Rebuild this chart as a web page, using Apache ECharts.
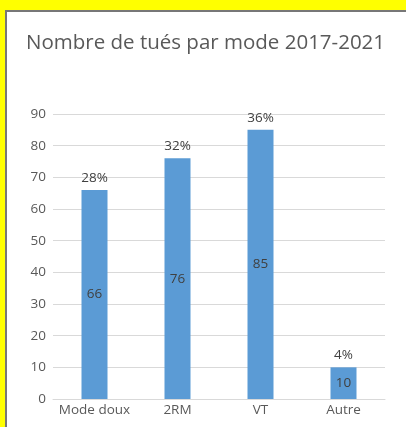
<!DOCTYPE html>
<html>
<head>
<meta charset="utf-8">
<script src="https://cdn.jsdelivr.net/npm/echarts@6/dist/echarts.min.js"></script>
<style>
  html, body { margin: 0; padding: 0; background: #ffff00; }
  #frame { position: absolute; left: 5px; top: 10px; right: 0; bottom: 0;
           background: #fff; border-left: 2px solid #777; border-top: 2px solid #777; }
  #chart { position: absolute; left: 0; top: 0; width: 406px; height: 427px; }
</style>
</head>
<body>
<div id="frame"></div>
<div id="chart"></div>
<script>
  // données
  var modes = ['Mode doux', '2RM', 'VT', 'Autre'];
  var tues = [66, 76, 85, 10];
  var parts = ['28%', '32%', '36%', '4%'];
  var yTicks = { min: 0, max: 90, interval: 10 };

  var txt = '#595959';
  var font = 'Open Sans';
  var myChart = echarts.init(document.getElementById('chart'));
  var option = {
    backgroundColor: 'transparent',
    animation: false,
    title: {
      text: 'Nombre de tués par mode 2017-2021',
      left: 21,
      top: 28,
      textStyle: { color: txt, fontFamily: font, fontSize: 20.5, fontWeight: 'normal' }
    },
    grid: { left: 53, right: 21, top: 114, bottom: 28, containLabel: false },
    xAxis: {
      type: 'category',
      data: modes,
      axisLine: { lineStyle: { color: '#d9d9d9', width: 1 } },
      axisTick: { show: false },
      axisLabel: { color: txt, fontFamily: font, fontSize: 13.5, margin: 4, interval: 0 }
    },
    yAxis: {
      type: 'value',
      min: yTicks.min,
      max: yTicks.max,
      interval: yTicks.interval,
      axisLine: { show: false },
      axisTick: { show: false },
      splitLine: { lineStyle: { color: '#d9d9d9', width: 1 } },
      axisLabel: { color: txt, fontFamily: font, fontSize: 13.5, margin: 7 }
    },
    series: [
      {
        type: 'bar',
        data: tues,
        barWidth: 26,
        itemStyle: { color: '#5b9bd5' },
        label: { show: true, position: 'inside', color: '#404040', fontFamily: font, fontSize: 13.5 }
      },
      {
        type: 'bar',
        data: tues,
        barWidth: 26,
        barGap: '-100%',
        itemStyle: { color: 'transparent' },
        label: {
          show: true, position: 'top', distance: 5, color: '#404040', fontFamily: font, fontSize: 13.5,
          formatter: function (p) { return parts[p.dataIndex]; }
        },
        z: 3
      }
    ]
  };
  myChart.setOption(option);
</script>
</body>
</html>
